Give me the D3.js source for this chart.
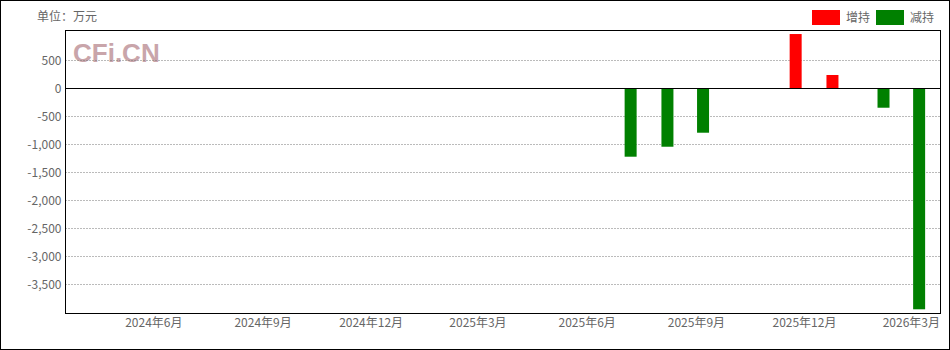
<!DOCTYPE html>
<html><head><meta charset="utf-8">
<script src="https://cdn.jsdelivr.net/npm/d3@7"></script>
<style>body{margin:0;background:#fff}svg{display:block}</style>
</head><body>
<script>
// Data
const dates = ["2025-07-08","2025-08-08","2025-09-07","2025-11-24","2025-12-25","2026-02-06","2026-03-08"];
const values = [-1222, -1044, -794, 967, 236, -348, -3945];
const yTicks = [500, 0, -500, -1000, -1500, -2000, -2500, -3000, -3500];
const xTickDates = ["2024-06-01","2024-09-01","2024-12-01","2025-03-01","2025-06-01","2025-09-01","2025-12-01","2026-03-01"];
const xTickLabels = ["2024年6月","2024年9月","2024年12月","2025年3月","2025年6月","2025年9月","2025年12月","2026年3月"];
const legendNames = ["增持","减持"];
const unitLabel = "单位：万元";

const W = 950, H = 350;
const m = {l: 65.5, r: 940.5, t: 30.5, b: 313.5};
const parse = d3.utcParse("%Y-%m-%d");
const font = "'Noto Sans CJK SC', 'DejaVu Sans', sans-serif";
const textColor = "#666";

const svg = d3.select("body").append("svg").attr("width", W).attr("height", H);
svg.append("rect").attr("x",0.5).attr("y",0.5).attr("width",W-1).attr("height",H-1)
  .attr("fill","#fff").attr("stroke","#000");

const x = d3.scaleUtc().domain([parse("2024-03-19"), parse("2026-03-26")]).range([m.l, m.r]);
const y = d3.scaleLinear().domain([-4020, 1030]).range([m.b, m.t]);

// watermark
svg.append("text").attr("x", 73).attr("y", 62).text("CFi.CN")
  .attr("font-family","'Liberation Sans', Arial, sans-serif").attr("font-weight","bold")
  .attr("font-size", 26).attr("fill","#c9a5aa");

// grid
const grid = svg.append("g");
yTicks.filter(v => v !== 0).forEach(v => {
  grid.append("line").attr("x1", m.l).attr("x2", m.r)
    .attr("y1", Math.round(y(v)) + 0.5).attr("y2", Math.round(y(v)) + 0.5)
    .attr("stroke","#777").attr("stroke-dasharray","1,2");
});

// y axis labels
const yAxis = d3.axisLeft(y).tickValues(yTicks).tickSize(0).tickPadding(4)
  .tickFormat(d => d3.format(",")(d).replace("−","-"));
const ya = svg.append("g").attr("transform", `translate(${m.l},0)`).call(yAxis);
ya.select(".domain").remove();
ya.selectAll("text").attr("font-family", font).attr("font-size", 12).attr("fill", textColor);

// x axis labels
const xAxis = d3.axisBottom(x).tickValues(xTickDates.map(parse)).tickSize(0).tickPadding(5)
  .tickFormat((d, i) => xTickLabels[i]);
const xa = svg.append("g").attr("transform", `translate(0,${m.b})`).call(xAxis);
xa.select(".domain").remove();
xa.selectAll("text").attr("font-family", font).attr("font-size", 12).attr("fill", textColor);

// bars
const data = dates.map((d, i) => ({date: parse(d), value: values[i]}));
svg.append("g").selectAll("rect").data(data).join("rect")
  .attr("x", d => x(d.date) - 6).attr("width", 12)
  .attr("y", d => y(Math.max(0, d.value)))
  .attr("height", d => Math.abs(y(d.value) - y(0)))
  .attr("fill", d => d.value >= 0 ? "#ff0000" : "#008000");

// zero line
svg.append("line").attr("x1", m.l).attr("x2", m.r)
  .attr("y1", Math.round(y(0)) + 0.5).attr("y2", Math.round(y(0)) + 0.5)
  .attr("stroke","#000");

// frame
svg.append("rect").attr("x", m.l).attr("y", m.t).attr("width", m.r - m.l).attr("height", m.b - m.t)
  .attr("fill","none").attr("stroke","#000");

// unit label
svg.append("text").attr("x", 37).attr("y", 21).text(unitLabel)
  .attr("font-family", font).attr("font-size", 12).attr("fill", textColor);

// legend
const legColors = ["#ff0000", "#008000"];
const legX = [812, 876];
legendNames.forEach((n, i) => {
  svg.append("rect").attr("x", legX[i]).attr("y", 10).attr("width", 28).attr("height", 15).attr("fill", legColors[i]);
  svg.append("text").attr("x", legX[i] + 34).attr("y", 22).text(n)
    .attr("font-family", font).attr("font-size", 12).attr("fill", textColor);
});
</script>
</body></html>
